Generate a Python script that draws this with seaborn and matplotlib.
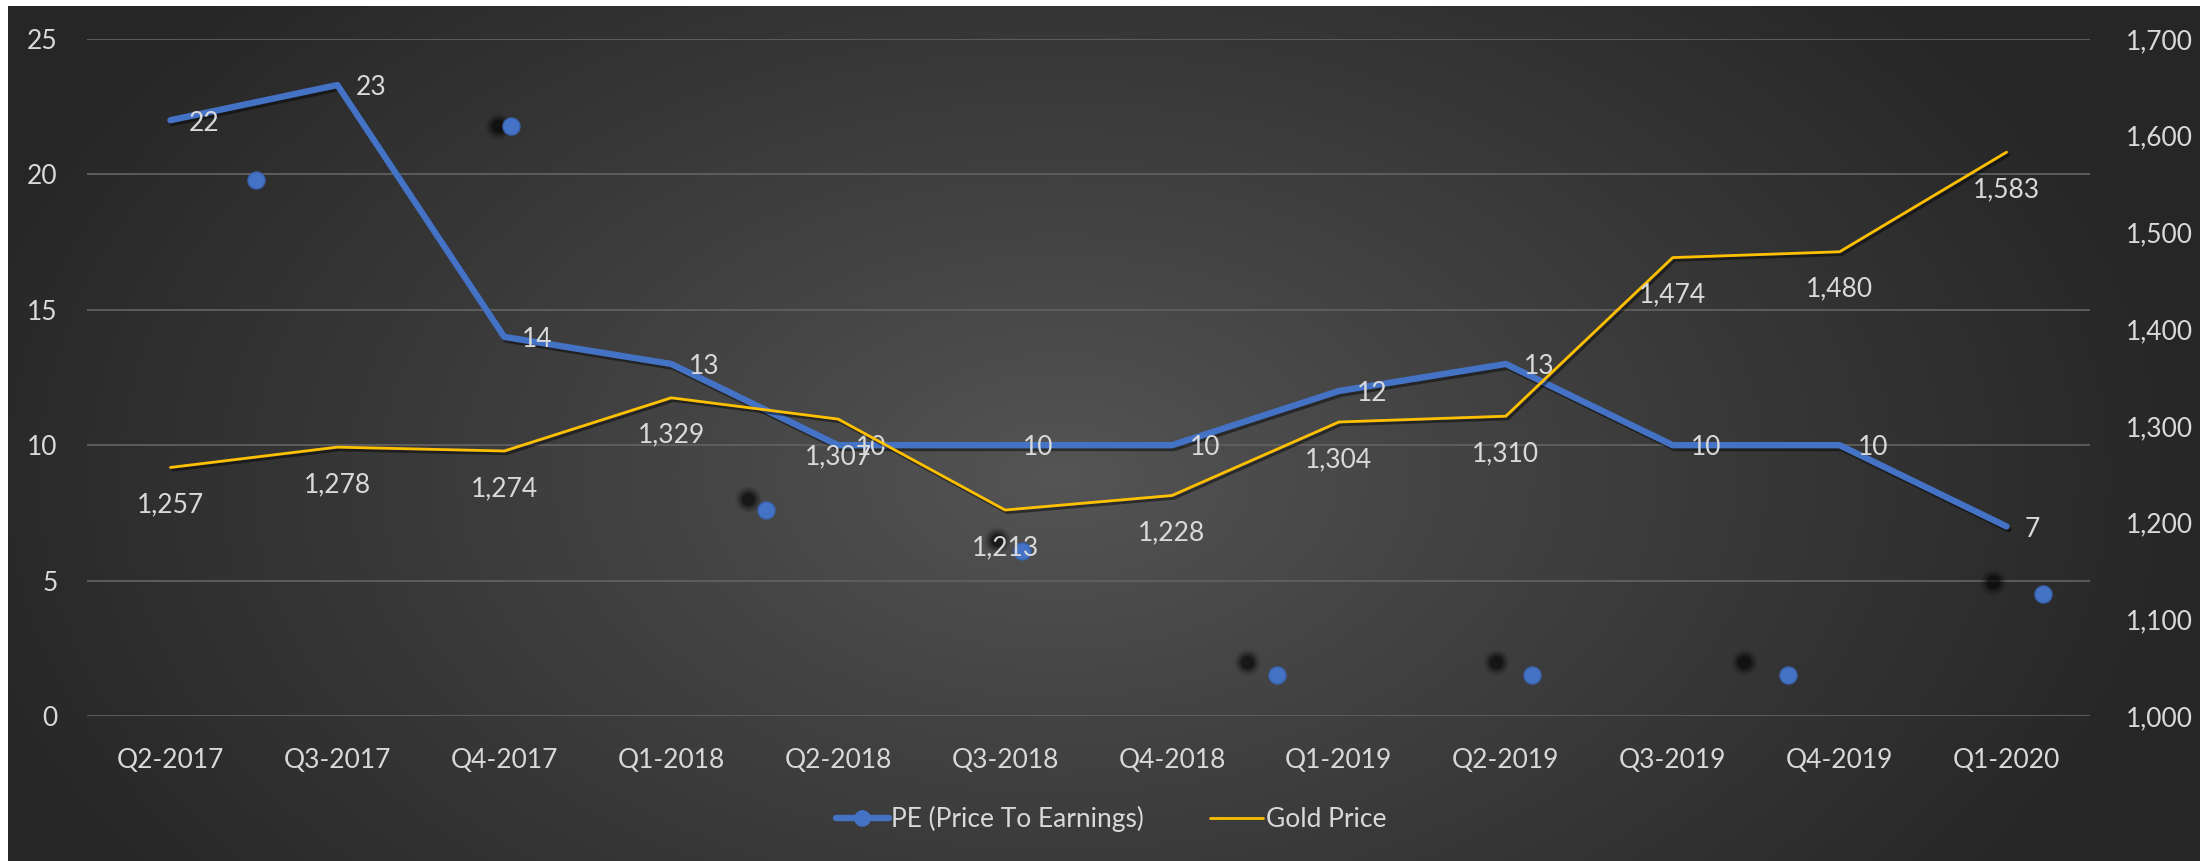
import numpy as np
import pandas as pd
import seaborn as sns
import matplotlib.pyplot as plt
from matplotlib import patheffects as pe_fx
from matplotlib.lines import Line2D
from matplotlib.ticker import FuncFormatter

quarters = ["Q2-2017", "Q3-2017", "Q4-2017", "Q1-2018", "Q2-2018", "Q3-2018",
            "Q4-2018", "Q1-2019", "Q2-2019", "Q3-2019", "Q4-2019", "Q1-2020"]
pe_ratio = [22, 23.3, 14, 13, 10, 10, 10, 12, 13, 10, 10, 7]
gold_price = [1257, 1278, 1274, 1329, 1307, 1213, 1228, 1304, 1310, 1474, 1480, 1583]

# the PE markers got drawn away from the line in the original chart
stray_x = [0.51, 2.04, 3.57, 5.10, 6.63, 8.16, 9.69, 11.22]
stray_y = [19.8, 21.8, 7.6, 6.1, 1.5, 1.5, 1.5, 4.5]
shadow_x = [1.96, 3.46, 4.95, 6.45, 7.94, 9.43, 10.92]
shadow_y = [21.8, 8.0, 6.5, 2.0, 2.0, 2.0, 4.95]

BLUE = "#4472C4"
GOLD = "#FFC000"
TXT = "#D9D9D9"
FONT = "Lato"
FS = 19

sns.set_theme(style="dark")
plt.rcParams["font.family"] = [FONT, "DejaVu Sans"]

df = pd.DataFrame({"Quarter": quarters, "PE": pe_ratio, "Gold": gold_price})

fig = plt.figure(figsize=(22, 8.61), dpi=100)
fig.patch.set_facecolor("white")

# background gradient (radial, lighter in the middle)
bg = fig.add_axes([8 / 2200, 0, 1 - 8 / 2200, 1 - 6 / 861], zorder=-5)
yy, xx = np.mgrid[0:855, 0:2192]
r = np.sqrt(((xx - 1050) / 1150.0) ** 2 + ((yy - 470) / 720.0) ** 2)
shade = 0x56 - (0x56 - 0x27) * np.clip(r, 0, 1) ** 0.9
bg.imshow(shade / 255.0, cmap="gray", vmin=0, vmax=1, aspect="auto")
bg.set_axis_off()

ax = fig.add_axes([87 / 2200, 1 - 716 / 861, (2090 - 87) / 2200, (716 - 39) / 861])
ax.set_facecolor("none")
ax2 = ax.twinx()
ax2.set_facecolor("none")

line_shadow = [pe_fx.SimpleLineShadow(offset=(1.5, -2), shadow_color="black", alpha=0.45),
               pe_fx.Normal()]

sns.lineplot(data=df, x="Quarter", y="PE", ax=ax, color=BLUE, linewidth=4.6,
             sort=False, path_effects=line_shadow, zorder=4)
sns.lineplot(data=df, x="Quarter", y="Gold", ax=ax2, color=GOLD, linewidth=2,
             sort=False, path_effects=line_shadow, zorder=3)

# stray markers with their blurred shadows
for s, a in [(360, 0.08), (260, 0.14), (170, 0.25), (90, 0.4)]:
    ax.scatter(shadow_x, shadow_y, s=s, color="black", alpha=a, linewidths=0, zorder=2)
ax.scatter(stray_x, stray_y, s=150, color=BLUE, edgecolors="#3A62B0", linewidths=1, zorder=5)

ax.set_xlim(-0.5, 11.5)
ax.set_ylim(0, 25)
ax.set_yticks([0, 5, 10, 15, 20, 25])
ax2.set_ylim(1000, 1700)
ax2.set_yticks(range(1000, 1701, 100))
ax2.yaxis.set_major_formatter(FuncFormatter(lambda v, p: f"{int(v):,}"))

ax.grid(axis="y", color="#606060", linewidth=1.3)
ax.grid(axis="x", visible=False)
ax2.grid(False)
for a in (ax, ax2):
    for sp in a.spines.values():
        sp.set_visible(False)
    a.set_xlabel("")
    a.set_ylabel("")
    a.tick_params(length=0, labelsize=FS, labelcolor=TXT)
ax.tick_params(axis="y", pad=21)
ax.tick_params(axis="x", pad=23)
ax2.tick_params(axis="y", pad=26)

# data labels
for i, v in enumerate(pe_ratio):
    ax.annotate(f"{v:.0f}", (i, v), xytext=(13, -2), textcoords="offset points",
                ha="left", va="center", fontsize=FS, color=TXT, zorder=6)
for i, v in enumerate(gold_price):
    ax2.annotate(f"{v:,}", (i, v), xytext=(0, -27), textcoords="offset points",
                 ha="center", va="center", fontsize=FS, color=TXT, zorder=6)

handles = [Line2D([0], [0], color=BLUE, lw=4.6, marker="o", markersize=11),
           Line2D([0], [0], color=GOLD, lw=2)]
fig.legend(handles, ["PE (Price To Earnings)", "Gold Price"], loc="center",
           bbox_to_anchor=(0.505, 1 - 819 / 861), ncol=2, frameon=False,
           fontsize=FS, labelcolor=TXT, handlelength=2, handletextpad=0.1,
           columnspacing=2.5)

plt.savefig("out.png", dpi=100)
